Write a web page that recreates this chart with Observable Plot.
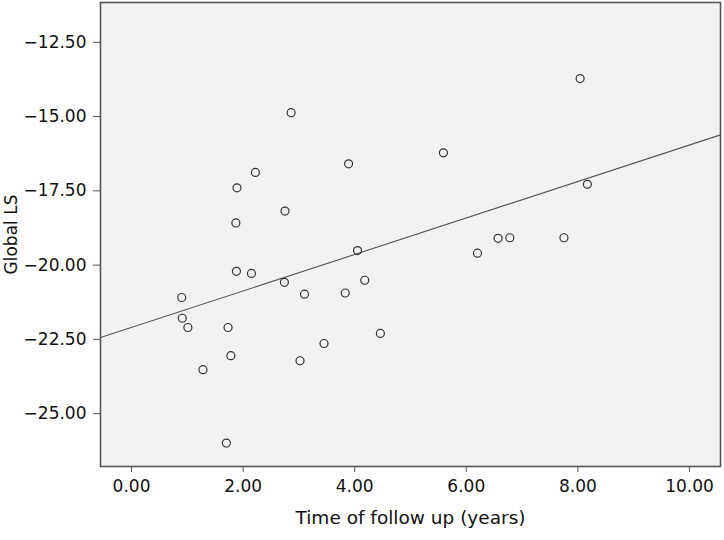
<!DOCTYPE html>
<html>
<head>
<meta charset="utf-8">
<script src="https://cdn.jsdelivr.net/npm/d3@7"></script>
<script src="https://cdn.jsdelivr.net/npm/@observablehq/plot@0.6"></script>
<style>
  html, body { margin: 0; padding: 0; background: #ffffff; }
  #chart svg { display: block; }
</style>
</head>
<body>
<div id="chart"></div>
<script>
// Time of follow up (years)
const followUp = [2.86, 3.89, 2.22, 1.89, 2.75, 1.87, 4.05, 1.88, 2.15, 2.74,
                  0.90, 3.10, 3.83, 4.18, 0.91, 1.01, 1.73, 4.46, 3.45, 1.78,
                  3.02, 1.28, 1.70, 8.04, 5.59, 8.17, 6.57, 6.78, 7.75, 6.20];
// Global LS
const globalLS = [-14.87, -16.59, -16.88, -17.40, -18.18, -18.58, -19.51, -20.21, -20.28, -20.58,
                  -21.09, -20.98, -20.94, -20.51, -21.79, -22.10, -22.10, -22.30, -22.64, -23.05,
                  -23.22, -23.52, -25.99, -13.72, -16.22, -17.28, -19.10, -19.08, -19.08, -19.60];
const xTicks = [0, 2, 4, 6, 8, 10];
const yTicks = [-25, -22.5, -20, -17.5, -15, -12.5];
const xLabel = "Time of follow up (years)";
const yLabel = "Global LS";

const xDomain = [-0.556, 10.556];
const yDomain = [-26.78, -11.16];

const data = followUp.map((x, i) => ({x, y: globalLS[i]}));

// ordinary least squares fit
const mx = d3.mean(followUp), my = d3.mean(globalLS);
const slope = d3.sum(data, d => (d.x - mx) * (d.y - my)) / d3.sum(data, d => (d.x - mx) ** 2);
const intercept = my - slope * mx;
const fit = xDomain.map(x => ({x, y: intercept + slope * x}));

const fmt = d3.format(".2f");

const chart = Plot.plot({
  width: 724,
  height: 540,
  marginTop: 2,
  marginLeft: 100,
  marginRight: 4,
  marginBottom: 74,
  style: {fontFamily: "'DejaVu Sans', sans-serif", fontSize: "17px", color: "#111", background: "#ffffff"},
  x: {domain: xDomain},
  y: {domain: yDomain},
  marks: [
    Plot.frame({fill: "#f2f2f2"}),
    Plot.axisX({ticks: xTicks, tickFormat: fmt, tickSize: 6, tickPadding: 7, stroke: "#555",
                fontSize: 17, label: null}),
    Plot.text([xLabel], {frameAnchor: "bottom", dy: 52, lineAnchor: "middle", fontSize: 18.5, fill: "#111"}),
    Plot.axisY({ticks: yTicks, tickFormat: fmt, tickSize: 7, tickPadding: 7, stroke: "#555",
                fontSize: 17, label: yLabel, labelAnchor: "center",
                labelArrow: "none", labelOffset: 96}),
    Plot.line(fit, {x: "x", y: "y", stroke: "#555", strokeWidth: 1.1}),
    Plot.dot(data, {x: "x", y: "y", r: 4, stroke: "#333", strokeWidth: 1.2, fill: "none"}),
    Plot.frame({stroke: "#555", strokeWidth: 1.6})
  ]
});
document.getElementById("chart").appendChild(chart);
</script>
</body>
</html>
